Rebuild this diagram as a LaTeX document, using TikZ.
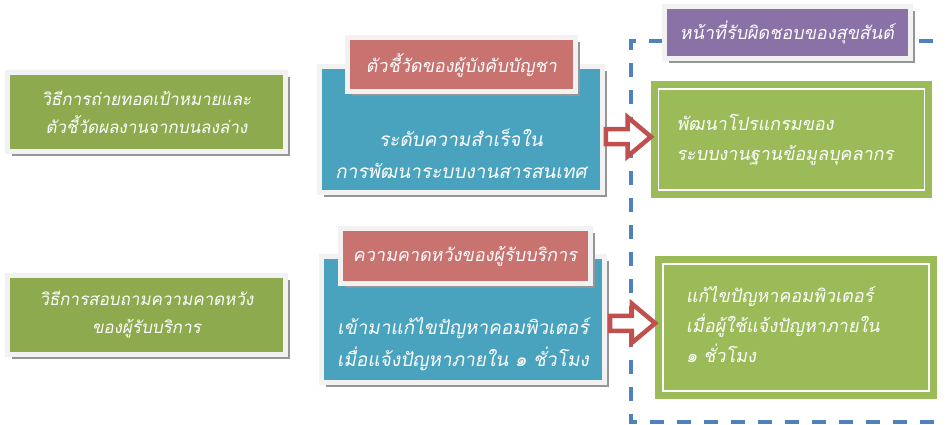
\documentclass[tikz,border=0pt]{standalone}
\usepackage{fontspec}
\usetikzlibrary{shapes.arrows,shadows}
\newfontfamily\thaifont[Script=Thai,FakeSlant=0.18]{Loma}

\definecolor{methodgreen}{RGB}{141,171,78}
\definecolor{respgreen}{RGB}{155,187,89}
\definecolor{kpiteal}{RGB}{74,163,190}
\definecolor{labelred}{RGB}{200,115,112}
\definecolor{dutypurple}{RGB}{138,114,166}
\definecolor{arrowred}{RGB}{192,80,77}
\definecolor{dashblue}{RGB}{79,129,189}
\definecolor{framewhite}{RGB}{242,242,242}
\definecolor{shadowgray}{RGB}{150,150,150}

\tikzset{
  framed/.style={draw=framewhite, line width=5pt, text=white,
    drop shadow={shadow xshift=4.5pt, shadow yshift=-4.5pt, fill=shadowgray, opacity=1}},
  methodbox/.style={framed, fill=methodgreen, minimum width=278pt, minimum height=79pt,
    align=center, font=\thaifont\fontsize{17}{28}\selectfont},
  kpibox/.style={framed, fill=kpiteal, minimum width=283pt, minimum height=126pt,
    align=center, font=\thaifont\fontsize{19}{32}\selectfont},
  kpilabel/.style={framed, fill=labelred, minimum height=54pt,
    font=\thaifont\fontsize{18}{28}\selectfont},
  dutylabel/.style={framed, fill=dutypurple, minimum width=246pt, minimum height=52pt,
    font=\thaifont\fontsize{18}{28}\selectfont},
  respbox/.style={fill=respgreen, draw=respgreen, line width=7pt, double=white,
    double distance=1.6pt, minimum width=266pt, text=white, align=left,
    text width=230pt, font=\thaifont\fontsize{18}{30}\selectfont},
  blockarrow/.style={single arrow, draw=arrowred, fill=white, line width=4.5pt,
    inner sep=0pt, inner ysep=5.25pt, minimum height=45pt, minimum width=34.5pt,
    single arrow tip angle=80, single arrow head extend=12pt},
  dutyline/.style={draw=dashblue, line width=4pt, dash pattern=on 14pt off 13pt}
}

\begin{document}
\begin{tikzpicture}[x=1pt,y=-1pt]
\clip (0,0) rectangle (946,425);

% left column
\node[methodbox] (method1) at (146.5,112) {วิธีการถ่ายทอดเป้าหมายและ\\ตัวชี้วัดผลงานจากบนลงล่าง};
\node[methodbox] (method2) at (146.5,315) {วิธีการสอบถามความคาดหวัง\\ของผู้รับบริการ};

% middle column
\node[kpibox] (kpi1) at (461,130) {\\[33pt]ระดับความสำเร็จใน\\การพัฒนาระบบงานสารสนเทศ};
\node[kpilabel, minimum width=228pt] (kpilab1) at (461.5,65) {ตัวชี้วัดของผู้บังคับบัญชา};
\node[kpibox] (kpi2) at (463,319) {\\[35pt]เข้ามาแก้ไขปัญหาคอมพิวเตอร์\\เมื่อแจ้งปัญหาภายใน ๑ ชั่วโมง};
\node[kpilabel, minimum width=250pt] (kpilab2) at (465,256) {ความคาดหวังของผู้รับบริการ};

% dashed frame of the duty area
\draw[dutyline] (960,41) -- (631,41) -- (631,422) -- (960,422);

% right column
\node[respbox, minimum height=101pt] (resp1) at (791.5,139.5) {พัฒนาโปรแกรมของ\\ระบบงานฐานข้อมูลบุคลากร};
\node[respbox, minimum height=127pt, text width=220pt] (resp2) at (796,327.5) {\\[-20pt]แก้ไขปัญหาคอมพิวเตอร์\\เมื่อผู้ใช้แจ้งปัญหาภายใน\\๑ ชั่วโมง};
\node[dutylabel] (duty) at (787,33) {หน้าที่รับผิดชอบของสุขสันต์};

% arrows
\path (kpi1.east) -- (resp1.west) node[midway, xshift=-6pt, yshift=-2pt, blockarrow] (arrow1) {};
\path (kpi2.east) -- (resp2.west) node[midway, xshift=-5pt, blockarrow] (arrow2) {};
\end{tikzpicture}
\end{document}
